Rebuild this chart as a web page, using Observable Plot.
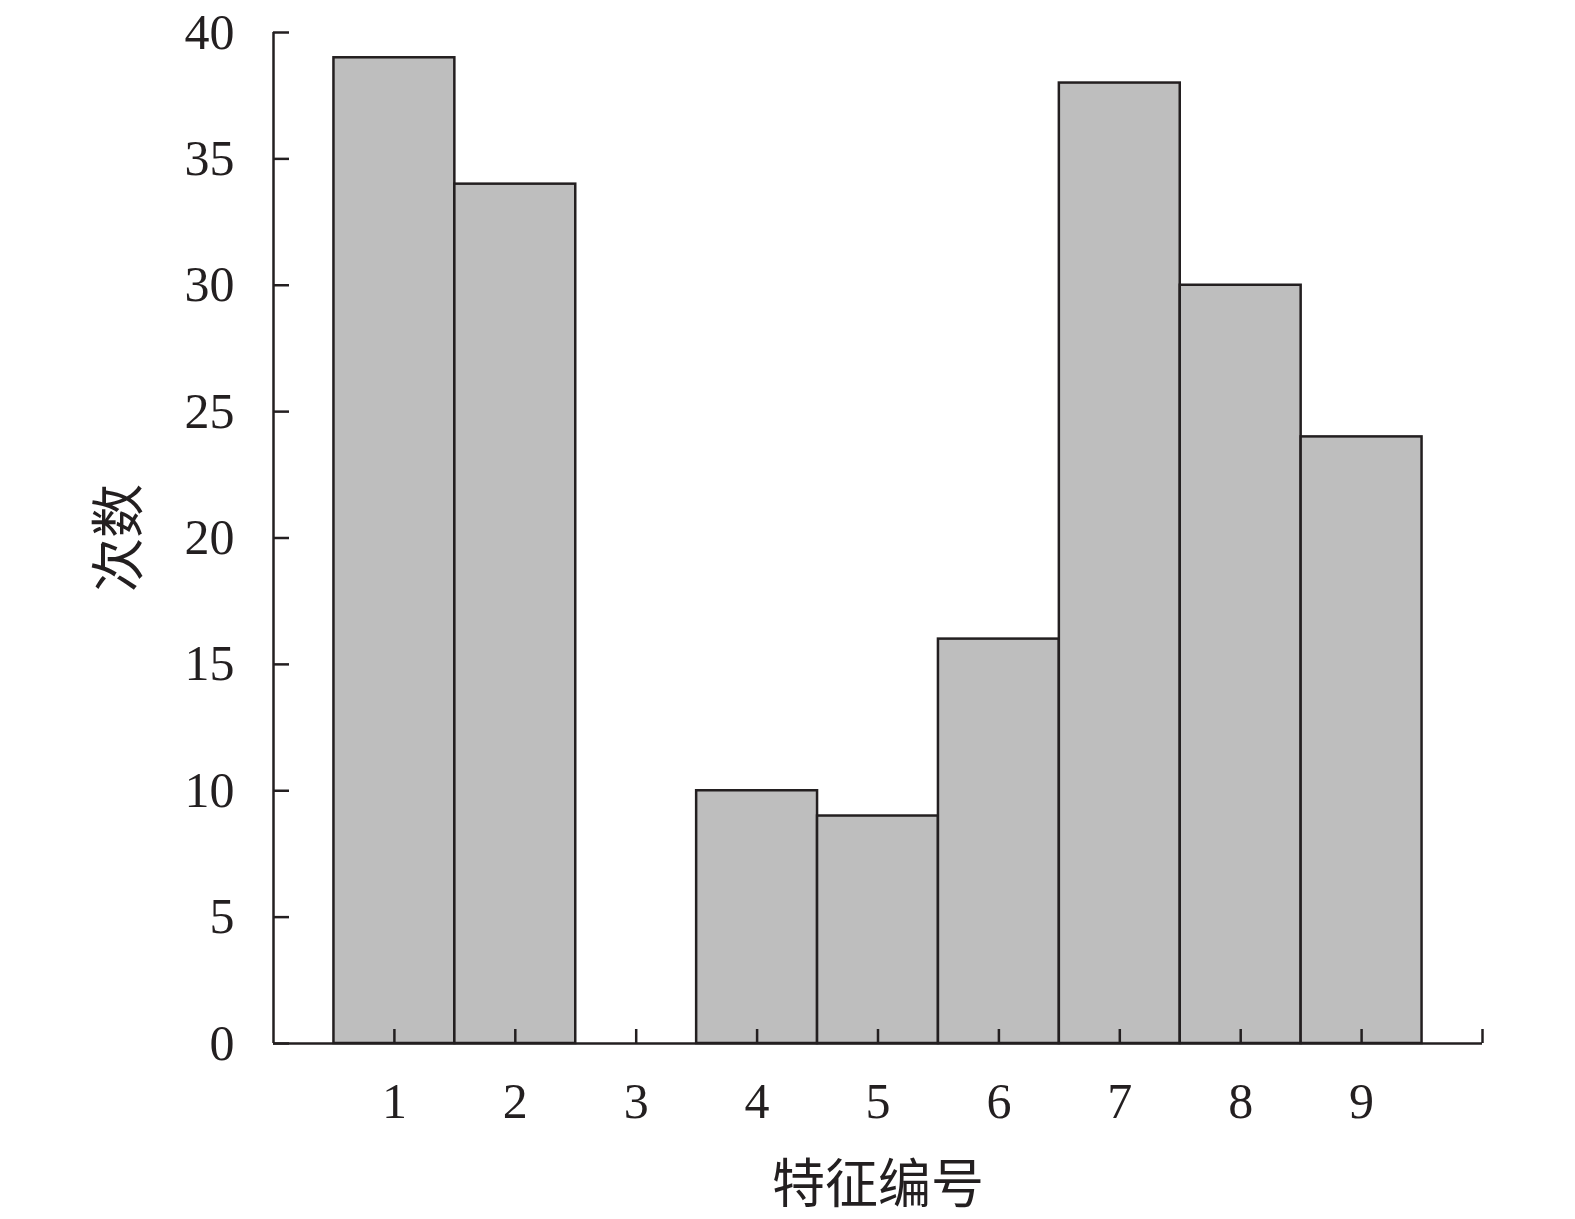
<!DOCTYPE html>
<html>
<head>
<meta charset="utf-8">
<script src="https://cdn.jsdelivr.net/npm/d3@7"></script>
<script src="https://cdn.jsdelivr.net/npm/@observablehq/plot@0.6"></script>
<style>
  html, body { margin: 0; padding: 0; background: #fff; overflow: hidden; }
  #chart svg { display: block; }
</style>
</head>
<body>
<div id="chart"></div>
<script>
const features = [1, 2, 3, 4, 5, 6, 7, 8, 9];
const counts = [39, 34, 0, 10, 9, 16, 38, 30, 24];
const xTicks = [1, 2, 3, 4, 5, 6, 7, 8, 9, 10];
const xTickLabels = ["1", "2", "3", "4", "5", "6", "7", "8", "9", ""];
const yTicks = [0, 5, 10, 15, 20, 25, 30, 35, 40];
const xLabel = "特征编号";
const yLabel = "次数";

const data = features.map((f, i) => ({f, c: counts[i]}));
const ink = "#231f20";
const serif = "'Liberation Serif', 'DejaVu Serif', serif";
const cjk = "'Noto Sans CJK SC', sans-serif";

const chart = Plot.plot({
  width: 1575,
  height: 1219,
  marginLeft: 273,
  marginRight: 93,
  marginTop: 32,
  marginBottom: 176,
  x: {domain: [0, 10]},
  y: {domain: [0, 40]},
  style: {background: "#fff", color: ink},
  marks: [
    Plot.rectY(data.filter(d => d.c > 0), {
      x1: d => d.f - 0.5, x2: d => d.f + 0.5, y1: 0, y2: "c",
      fill: "#bebebe", stroke: ink, strokeWidth: 2.5
    }),
    Plot.axisY({
      ticks: yTicks, tickSize: -16, tickPadding: 55, strokeWidth: 2.5,
      fontSize: 50, fontFamily: serif, fill: ink, label: null
    }),
    Plot.axisX({
      ticks: xTicks, tickFormat: (d, i) => xTickLabels[i], tickSize: -14, tickPadding: 53,
      strokeWidth: 2.5, fontSize: 50, fontFamily: serif, fill: ink, label: null
    }),
    Plot.axisY({
      ticks: [], label: yLabel, labelAnchor: "center", labelOffset: 174, labelArrow: "none",
      fontSize: 54, fontFamily: cjk, fill: ink
    }),
    Plot.axisX({
      ticks: [], label: xLabel, labelAnchor: "center", labelOffset: 159, labelArrow: "none",
      fontSize: 53, fontFamily: cjk, fill: ink
    }),
    Plot.ruleX([0], {stroke: ink, strokeWidth: 2.5}),
    Plot.ruleY([0], {stroke: ink, strokeWidth: 2.5})
  ]
});
document.getElementById("chart").appendChild(chart);
</script>
</body>
</html>
